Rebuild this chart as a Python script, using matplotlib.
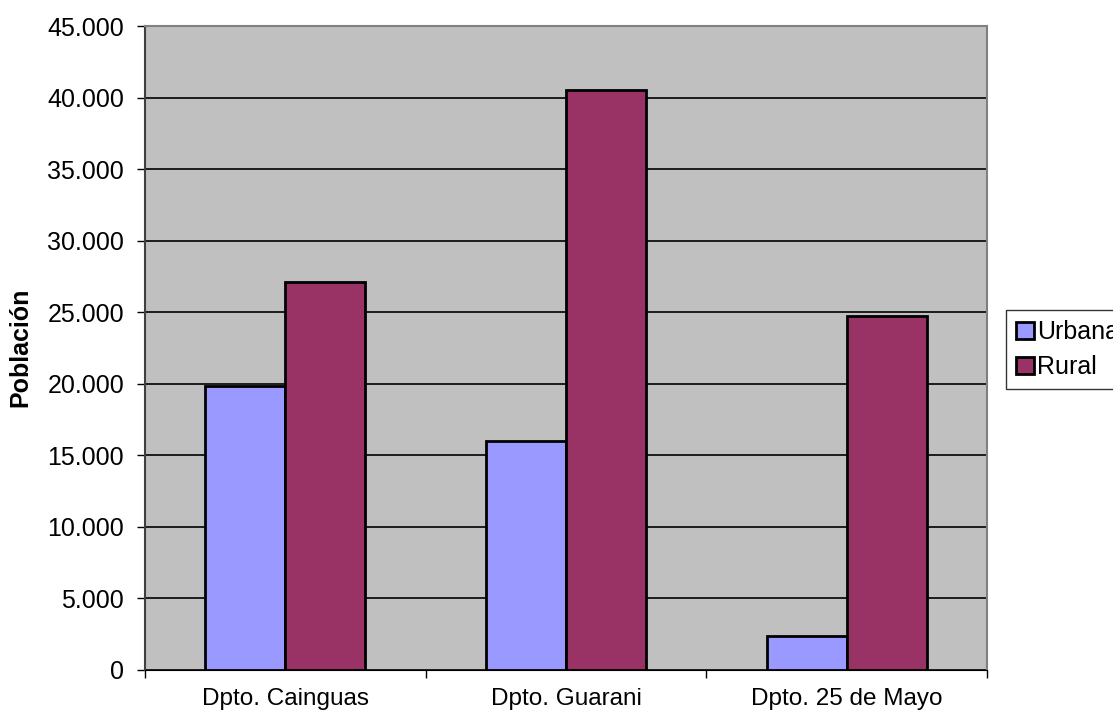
import numpy as np
import matplotlib.pyplot as plt
from matplotlib.ticker import FuncFormatter, FixedLocator

plt.rcParams['font.family'] = ['Liberation Sans', 'DejaVu Sans']

# Población por departamento
departamentos = ["Dpto. Cainguas", "Dpto. Guarani", "Dpto. 25 de Mayo"]
urbana = [19800, 16000, 2360]
rural = [27100, 40520, 24720]

fig = plt.figure(figsize=(11.13, 7.15), dpi=100)
ax = fig.add_axes([0.1303, 0.0636, 0.7565, 0.9000])
ax.set_facecolor("#C0C0C0")

x = np.arange(len(departamentos))
w = 0.285
b1 = ax.bar(x - w/2, urbana, w, color="#9999FF", edgecolor="black",
            linewidth=2, label="Urbana", zorder=3)
b2 = ax.bar(x + w/2, rural, w, color="#993366", edgecolor="black",
            linewidth=2, label="Rural", zorder=3)

ax.set_xlim(-0.5, len(departamentos) - 0.5)
ax.set_ylim(0, 45000)
ax.set_yticks(np.arange(0, 45001, 5000))
ax.yaxis.set_major_formatter(FuncFormatter(lambda v, p: f"{int(v):,}".replace(",", ".")))
ax.grid(axis="y", color="black", linewidth=1.2, zorder=1)

# category labels centred, tick marks at category boundaries
ax.set_xticks(x)
ax.set_xticklabels(departamentos, fontsize=17.5)
ax.tick_params(axis="x", length=0, pad=13)
ax.xaxis.set_minor_locator(FixedLocator(np.arange(-0.5, len(departamentos), 1.0)))
ax.tick_params(axis="x", which="minor", length=6, width=1, color="black")
ax.tick_params(axis="y", labelsize=18, length=6, width=1, pad=9)

for side in ["top", "right"]:
    ax.spines[side].set_color("#808080")
    ax.spines[side].set_linewidth(1.5)
ax.spines["left"].set_color("#404040")
ax.spines["left"].set_linewidth(1.5)
ax.spines["bottom"].set_color("black")

ax.set_ylabel("Población", fontsize=18, fontweight="bold", labelpad=11)

leg = fig.legend(handles=[b1, b2], labels=["Urbana", "Rural"],
                 loc="upper left", bbox_to_anchor=(1006/1113, 1 - 310/715),
                 fontsize=18, frameon=True, fancybox=False, edgecolor="black",
                 handlelength=0.7, handleheight=0.7, handletextpad=0.15,
                 borderpad=0.4, labelspacing=0.45, borderaxespad=0)
leg.get_frame().set_linewidth(1)

fig.savefig("out.png", dpi=100)
